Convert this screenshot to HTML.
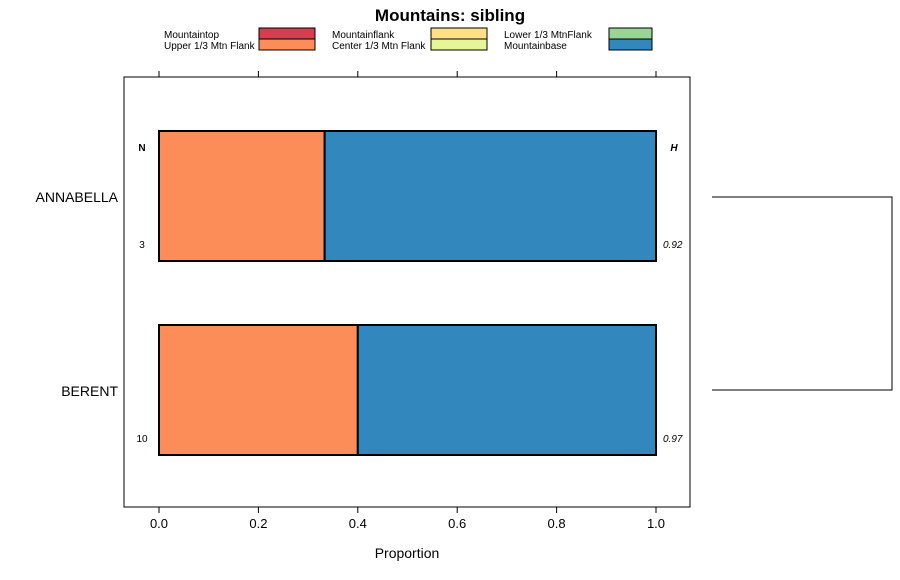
<!DOCTYPE html>
<html><head><meta charset="utf-8">
<style>
body{margin:0;background:#fff;}
svg{display:block;font-family:"Liberation Sans",sans-serif;}
</style></head>
<body>
<svg id="chart" width="900" height="580">
<text x="450" y="21" text-anchor="middle" font-size="17" font-weight="bold">Mountains: sibling</text>
<g id="legend"></g>
<rect x="124" y="77" width="566" height="430" fill="none" stroke="#000" stroke-width="1"/>
<g id="axes"></g>
<g id="bars"></g>
<text x="407" y="558" text-anchor="middle" font-size="14">Proportion</text>
<text x="142" y="151" text-anchor="middle" font-size="10" font-weight="bold">N</text>
<text x="674" y="151" text-anchor="middle" font-size="10" font-weight="bold" font-style="italic">H</text>
<path d="M712 197 H892 V390 H712" fill="none" stroke="#000" stroke-width="1"/>
</svg>
<script>
const categories=["ANNABELLA","BERENT"];
const upperVals=[0.3333,0.4];
const baseVals=[0.6667,0.6];
const nVals=["3","10"];
const hVals=["0.92","0.97"];
const ticks=[0,0.2,0.4,0.6,0.8,1.0];
const tickLabels=["0.0","0.2","0.4","0.6","0.8","1.0"];
const legendNames=["Mountaintop","Upper 1/3 Mtn Flank","Mountainflank","Center 1/3 Mtn Flank","Lower 1/3 MtnFlank","Mountainbase"];
const legendColors=["#D53E4F","#FC8D59","#FEE08B","#E6F598","#99D594","#3288BD"];

const NS="http://www.w3.org/2000/svg";
const xs=v=>159+v*497;
const rowY=i=>131+i*194;
function mk(tag,attrs,parent,text){const e=document.createElementNS(NS,tag);for(const k in attrs)e.setAttribute(k,attrs[k]);if(text!==undefined)e.textContent=text;parent.appendChild(e);return e;}
const axes=document.getElementById('axes');
ticks.forEach((t,i)=>{
  let l=mk('line',{x1:xs(t),x2:xs(t),y1:507,y2:513,stroke:'#000'},axes);
  
  
  let l2=mk('line',{x1:xs(t),x2:xs(t),y1:71,y2:77,stroke:'#000'},axes);
  
  
  let tx=mk('text',{x:xs(t),y:528,'text-anchor':'middle','font-size':13},axes,tickLabels[i]);
  
  
});
const bars=document.getElementById('bars');
categories.forEach((c,i)=>{
  const y=rowY(i);
  let lab=mk('text',{x:118,y:y+71,'text-anchor':'end','font-size':14},bars,c);
  
  
  let r1=mk('rect',{x:xs(0),y:y,width:xs(upperVals[i])-xs(0),height:130,fill:legendColors[1],stroke:'#000','stroke-width':2},bars);
  
  
  let r2=mk('rect',{x:xs(upperVals[i]),y:y,width:xs(upperVals[i]+baseVals[i])-xs(upperVals[i]),height:130,fill:legendColors[5],stroke:'#000','stroke-width':2},bars);
  
  
  let n=mk('text',{x:142,y:y+117,'text-anchor':'middle','font-size':10},bars,nVals[i]);
  
  
  let h=mk('text',{x:663,y:y+117,'font-size':10,'font-style':'italic'},bars,hVals[i]);
  
  
});
const lg=document.getElementById('legend');
const colX=[164,332,504], swX=[259,431,609], swW=[56,56,43];
legendNames.forEach((nm,i)=>{
  const col=Math.floor(i/2), row=i%2;
  let t=mk('text',{x:colX[col],y:38+row*11,'font-size':10},lg,nm);
  
  
  let s=mk('rect',{x:swX[col],y:28+row*11,width:swW[col],height:11,fill:legendColors[i],stroke:'#000','stroke-width':1},lg);
  
  
});
</script>
</body></html>
